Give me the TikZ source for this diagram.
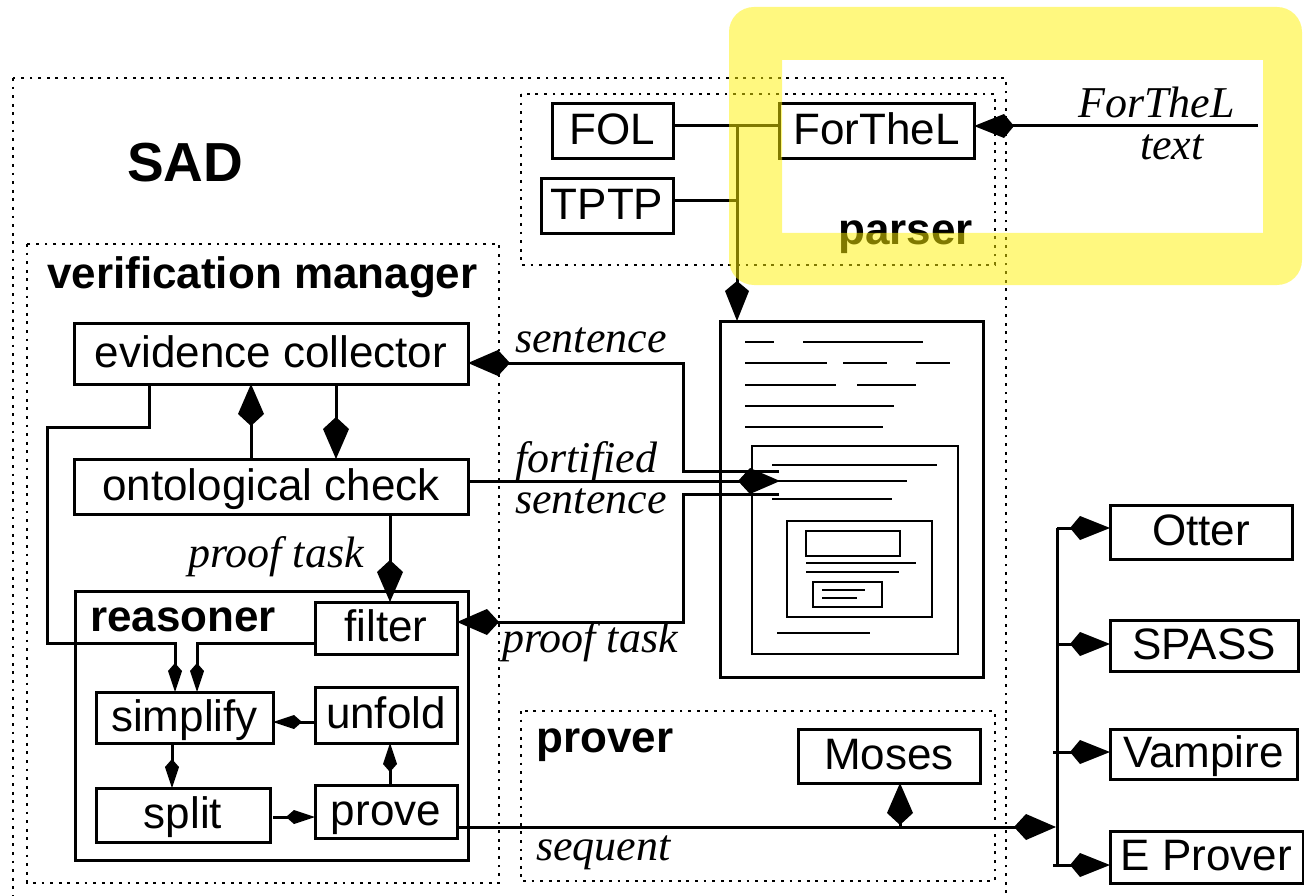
\documentclass[tikz,border=0pt]{standalone}
\usepackage{fontspec}
\setmainfont{Liberation Sans}
\newfontfamily\tms{Liberation Serif}
\usetikzlibrary{arrows.meta}
\begin{document}
\begin{tikzpicture}[x=1pt,y=-1pt,
  every node/.style={font=\fontsize{44}{50}\selectfont},
  box/.style={draw, line width=3pt, inner sep=0pt, outer sep=0pt, text height=32pt, text depth=5pt},
  conn/.style={line width=3pt},
  bk/.style={-{Kite[length=42pt,width=26pt,inset=12pt]}},
  pk/.style={-{Kite[length=40pt,width=24pt,inset=10pt]}},
  sk/.style={-{Kite[length=29pt,width=14pt,inset=8pt]}},
  dotbox/.style={line width=2.8pt, dash pattern=on 2.8pt off 5.8pt},
  lbl/.style={anchor=base west, inner sep=0pt, font=\fontsize{44}{50}\selectfont\bfseries},
  ital/.style={anchor=base west, inner sep=0pt, font=\fontsize{44}{50}\selectfont\tms\itshape},
  docl/.style={line width=2.8pt}
]
\useasboundingbox[fill=white] (0,0) rectangle (1304,896);

% dotted containers
\draw[dotbox] (13,78) rectangle (1006,905);
\draw[dotbox] (27,244) rectangle (499,883);
\draw[dotbox] (521,94) rectangle (995,265);
\draw[dotbox] (521,711) rectangle (995,881);

% labels
\node[lbl, font=\fontsize{55}{60}\selectfont\bfseries] (tSAD) at (127,182) {SAD};
\node[lbl] (tVM) at (47,288) {verification manager};
\node[lbl] (tParser) at (838,245) {parser};
\node[lbl] (tReas) at (90,631) {reasoner};
\node[lbl] (tProver) at (536,752) {prover};
\node[ital] (tSent1) at (515,352) {sentence};
\node[ital] (tFort) at (515,472) {fortified};
\node[ital] (tSent2) at (515,513) {sentence};
\node[ital] (tPT1) at (188,567) {proof task};
\node[ital] (tPT2) at (502,652) {proof task};
\node[ital] (tSeq) at (536,860) {sequent};
\node[ital] (tFT) at (1078,118) {ForTheL};
\node[ital] (tText) at (1140,160) {text};

% boxes
\node[box, minimum width=121pt, minimum height=55pt] (fol) at (612.5,131.5) {FOL};
\node[box, minimum width=132pt, minimum height=55pt] (tptp) at (607,206.5) {TPTP};
\node[box, minimum width=195pt, minimum height=55pt] (forthel) at (876.5,131.5) {ForTheL};
\node[box, minimum width=394pt, minimum height=61pt] (ec) at (271,353.5) {evidence collector};
\node[box, minimum width=394pt, minimum height=55pt] (oc) at (271,486.5) {ontological check};
\draw[line width=3pt] (75,591) rectangle (468,860);
\node[box, minimum width=142pt, minimum height=52pt] (filter) at (386,628) {filter};
\node[box, minimum width=177pt, minimum height=51pt] (simplify) at (184.5,717.5) {simplify};
\node[box, minimum width=142pt, minimum height=56pt] (unfold) at (386,715) {unfold};
\node[box, minimum width=174pt, minimum height=54pt] (split) at (183,815) {split};
\node[box, minimum width=142pt, minimum height=53pt] (prove) at (386,811.5) {prove};
\node[box, minimum width=182pt, minimum height=54pt] (moses) at (889,756) {Moses};
\node[box, minimum width=182pt, minimum height=54pt] (otter) at (1201,532) {Otter};
\node[box, minimum width=188pt, minimum height=51pt] (spass) at (1204,645.5) {SPASS};
\node[box, minimum width=187pt, minimum height=50pt] (vampire) at (1203.5,754) {Vampire};
\node[box, minimum width=193pt, minimum height=52pt] (eprover) at (1206.5,857) {E Prover};

% document icon
\node[draw, line width=3pt, minimum width=263pt, minimum height=356pt, inner sep=0pt, outer sep=0pt] (doc) at (851.5,499) {};
\draw[docl] (752,446) rectangle (958,654);
\draw[docl] (787,521) rectangle (932,617);
\draw[docl] (806,531) rectangle (900,556);
\draw[docl] (813,582) rectangle (882,607);
\draw[docl] (745,342)--(774,342) (803,342)--(923,342);
\draw[docl] (745,363)--(827,363) (843,363)--(887,363) (916,363)--(950,363);
\draw[docl] (745,385)--(836,385) (857,385)--(916,385);
\draw[docl] (745,406)--(894,406);
\draw[docl] (745,427)--(883,427);
\draw[docl] (772,465)--(937,465);
\draw[docl] (772,481)--(907,481);
\draw[docl] (772,499)--(892,499);
\draw[docl] (806,563)--(916,563) (806,572)--(899,572);
\draw[docl] (822,590)--(865,590) (822,598)--(857,598);
\draw[docl] (777,633)--(870,633);

\coordinate (sIn) at (779,471);
\coordinate (fIn) at (780,481);
\coordinate (pOut) at (779,494);
\coordinate (ftxt) at (1258,126);

% parser connectors
\draw[conn] (fol.east |- 0,126) -- (forthel.west |- 0,126);
\draw[conn] (tptp.east |- 0,201) -- (737,201);
\draw[conn,pk] (737,126) -- (doc.north -| 737,0);
\draw[conn,pk] (ftxt) -- (forthel.east |- ftxt);

% document connectors
\draw[conn,bk] (sIn) -- (683,471) -- (683,363) -- (ec.east |- 0,363);
\draw[conn,bk] (oc.east |- 0,481) -- (fIn);
\draw[conn,bk] (pOut) -- (683,494) -- (683,622) -- (filter.east |- 0,622);

% verification manager internals
\draw[conn,sk] (ec.south -| 149,0) -- (149,427) -- (47,427) -- (47,643) -- (175,643) -- (simplify.north -| 175,0);
\draw[conn,sk] (filter.west |- 0,643) -- (197,643) -- (simplify.north -| 197,0);
\draw[conn,bk] (oc.north -| 251,0) -- (ec.south -| 251,0);
\draw[conn,bk] (ec.south -| 336,0) -- (oc.north -| 336,0);
\draw[conn,bk] (oc.south -| 390,0) -- (filter.north -| 390,0);
\draw[conn,sk] (unfold.west |- 0,722) -- (simplify.east |- 0,722);
\draw[conn,sk] (simplify.south -| 172,0) -- (split.north -| 172,0);
\draw[conn,sk] (273,817) -- (prove.west |- 0,817);
\draw[conn,sk] (prove.north -| 390,0) -- (unfold.south -| 390,0);

% provers
\coordinate (busTop) at (1057,528);
\coordinate (busBot) at (1057,865);
\draw[conn,bk] (prove.east |- 0,827) -- (1056,827);
\draw[conn,bk] (900,827) -- (moses.south -| 900,0);
\draw[conn] (busTop) -- (busBot);
\draw[conn,pk] (busTop) -- (otter.west |- busTop);
\draw[conn,pk] (1057,644) -- (spass.west |- 0,644);
\draw[conn,pk] (1053,752) -- (vampire.west |- 0,752);
\draw[conn,pk] (1053,865) -- (eprover.west |- 0,865);

% highlight
\fill[yellow, opacity=0.5, even odd rule] [rounded corners=25pt] (729,7) rectangle (1302,285) [sharp corners] (782,60) rectangle (1263,233);
\end{tikzpicture}
\end{document}
